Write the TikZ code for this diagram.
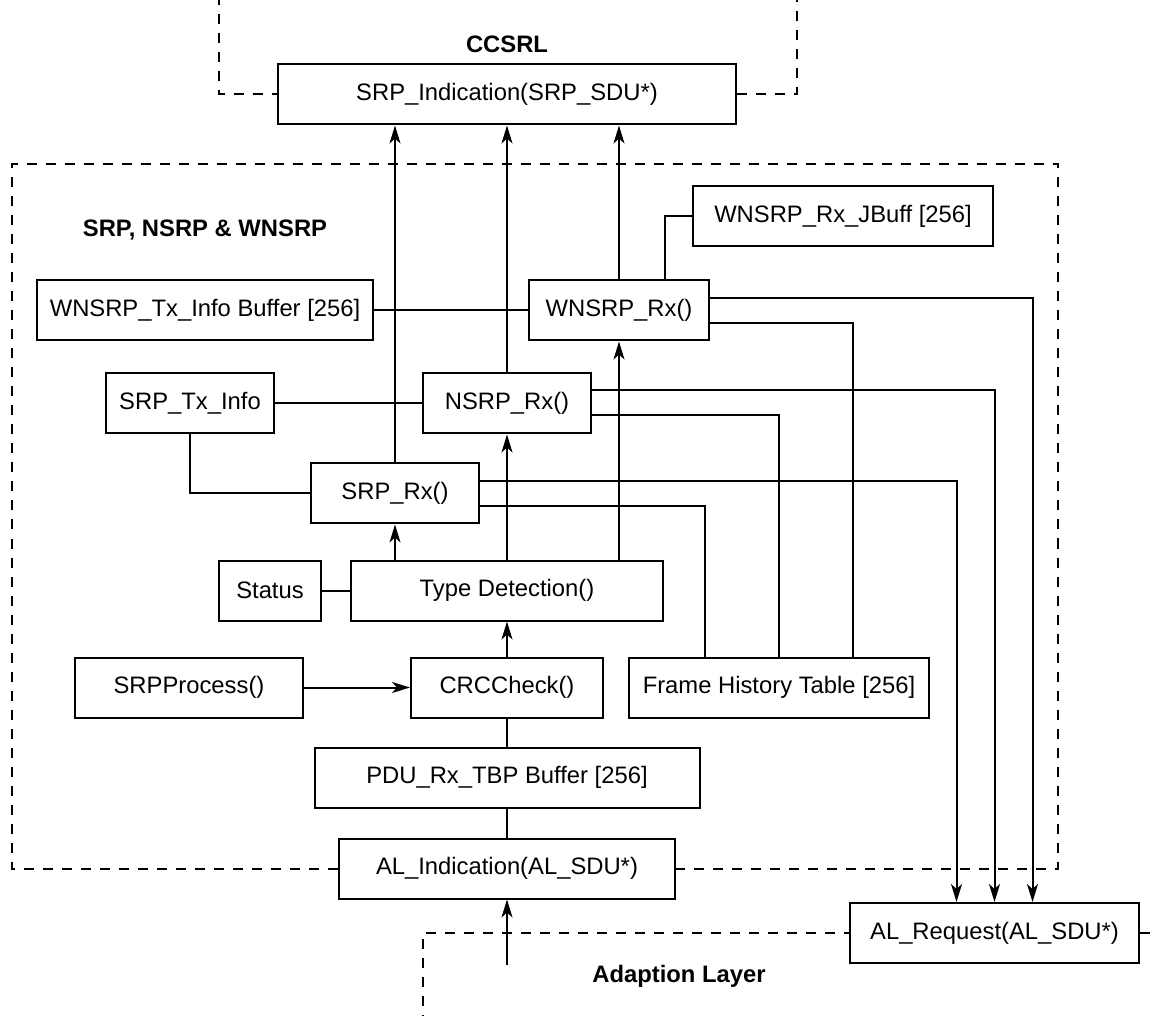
\documentclass[tikz,border=0pt]{standalone}
\usepackage{fontspec}
\setmainfont{Liberation Sans}
\usepackage{tikz}
\usetikzlibrary{positioning}
\usetikzlibrary{arrows.meta,calc}
\tikzset{line/.style={draw, line width=1pt, -{Stealth[length=9pt,width=5.5pt,inset=2.5pt]}}}
\tikzset{wire/.style={draw, line width=1pt}}
\tikzset{border/.style={draw, line width=1pt, dash pattern=on 5pt off 4.5pt}}

\begin{document}
\begin{tikzpicture}[x=0.5pt,y=-0.5pt]
\tikzstyle{block} = [rectangle, draw, line width=1pt, minimum height=30pt, font=\fontsize{11.9}{14}\selectfont]
\tikzstyle{layer} = [font=\fontsize{11.9}{14}\selectfont\bfseries]
\useasboundingbox (0,0) rectangle (1158,1016);

% blocks
    \node [block, minimum width=156pt] (type) at (507,590.5) {Type Detection()};
    \node [block, minimum width=51pt, left=14pt of type] (status) {Status};
    \node [block, minimum width=96pt, below=17.5pt of type] (crc) {CRCCheck()};
    \node [block, minimum width=114pt, left=53pt of crc] (proc) {SRPProcess()};
    \node [block, minimum width=150pt, right=12pt of crc] (fht) {Frame History Table [256]};
    \node [block, minimum width=192.5pt, below=14pt of crc] (pdu) {PDU\_Rx\_TBP Buffer [256]};
    \node [block, minimum width=168pt, below=14.5pt of pdu] (alind) {AL\_Indication(AL\_SDU*)};
    \node [block, minimum width=144.5pt, right=86.5pt of alind, yshift=-32.25pt] (alreq) {AL\_Request(AL\_SDU*)};
    \node [block, minimum width=84pt, above=62.5pt of type] (nrx) {NSRP\_Rx()};
    \node [block, minimum width=84pt, above=17.5pt of type, xshift=-56pt] (srx) {SRP\_Rx()};
    \node [block, minimum width=90pt, above=15.5pt of nrx, xshift=56pt] (wrx) {WNSRP\_Rx()};
    \node [block, minimum width=168pt, left=77pt of wrx] (wtx) {WNSRP\_Tx\_Info Buffer [256]};
    \node [block, minimum width=84pt, left=73.5pt of nrx] (stx) {SRP\_Tx\_Info};
    \node [block, minimum width=150pt, above=16pt of wrx, xshift=112pt] (jbuff) {WNSRP\_Rx\_JBuff [256]};
    \node [block, minimum width=229pt, above=123.5pt of nrx] (ind) {SRP\_Indication(SRP\_SDU*)};
% labels
    \node [layer, above=2pt of ind] (ccsrl) {CCSRL};
    \node [layer, above=16pt of wtx] (srp) {SRP, NSRP \& WNSRP};
    \node [layer, below=29.5pt of alind, xshift=86pt] (adapt) {Adaption Layer};
    \coordinate [below=32.5pt of alind] (alin);
% layers
    \coordinate (tl) at (219,-5);
    \coordinate (tr) at (797,-5);
    \coordinate (ml) at (12,164);
    \coordinate (mr) at (1058,164);
    \coordinate (bl) at (423,1025);
    \coordinate (br) at (1165,0);
    \path [border] (tl) |- (ind.west);
    \path [border] (ind.east) -| (tr);
    \path [border] (alind.west) -| (ml) -- (mr) |- (alind.east);
    \path [border] (bl) |- (alreq.west);
    \path [border] (alreq.east) -- (alreq.east -| br);
% arrows
    \path [line] (srx.north) -- (ind.south -| srx.north);
    \path [line] (nrx.north) -- (ind.south -| nrx.north);
    \path [line] (wrx.north) -- (ind.south -| wrx.north);
    \path [wire] (jbuff.west) -| ([xshift=23pt]wrx.north);
    \path [wire] (wtx.east) -- (wrx.west);
    \path [wire] (stx.east) -- (nrx.west);
    \path [wire] (stx.south) |- (srx.west);
    \path [wire] (status.east) -- (type.west);
    \path [line] (type.north -| srx.south) -- (srx.south);
    \path [line] (type.north) -- (nrx.south);
    \path [line] (type.north -| wrx.south) -- (wrx.south);
    \path [line] (crc.north) -- (type.south);
    \path [line] (proc.east) -- (crc.west);
    \path [wire] (pdu.north) -- (crc.south);
    \path [wire] (alind.north) -- (pdu.south);
    \path [line] (alin) -- (alind.south);
    \path [line] ([yshift=6pt]srx.east) -| ([xshift=-19pt]alreq.north);
    \path [line] ([yshift=6.5pt]nrx.east) -| (alreq.north);
    \path [line] ([yshift=6pt]wrx.east) -| ([xshift=19pt]alreq.north);
    \path [wire] ([yshift=-6.5pt]srx.east) -| ([xshift=-37pt]fht.north);
    \path [wire] ([yshift=-6pt]nrx.east) -| (fht.north);
    \path [wire] ([yshift=-6.5pt]wrx.east) -| ([xshift=37pt]fht.north);
\end{tikzpicture}
\end{document}
